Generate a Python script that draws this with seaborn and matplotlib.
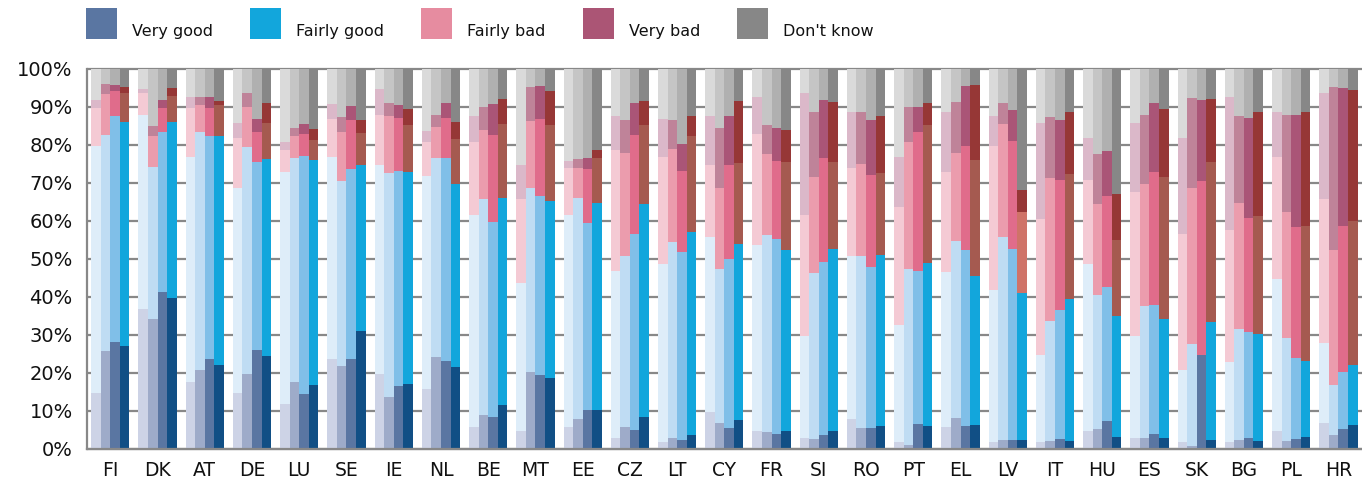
#!/usr/bin/env python3
"""
Perceived situation by country, four survey waves stacked side by side.
Each bar is one wave; segments go Very good -> Don't know from bottom to top.
"""

import numpy as np
import pandas as pd
import seaborn as sns
import matplotlib.pyplot as plt
from matplotlib.patches import Rectangle

countries = ["FI", "DK", "AT", "DE", "LU", "SE", "IE", "NL", "BE", "MT", "EE", "CZ", "LT", "CY",
             "FR", "SI", "RO", "PT", "EL", "LV", "IT", "HU", "ES", "SK", "BG", "PL", "HR"]
waves = ["W1", "W2", "W3", "W4"]
categories = ["Very good", "Fairly good", "Fairly bad", "Very bad", "Don't know"]
y_labels = ["0%", "10%", "20%", "30%", "40%", "50%", "60%", "70%", "80%", "90%", "100%"]

# one list per wave, countries in the order above (values in %)
very_good = [
    [14.8, 36.8, 17.6, 14.8, 11.8, 23.7, 19.7, 15.8, 5.8, 4.7, 5.8, 2.9, 1.8, 9.7, 4.7, 2.9, 7.9, 1.8, 5.8, 1.8, 1.8, 4.7, 2.9, 1.8, 1.8, 4.7, 6.8],
    [25.8, 34.2, 20.8, 19.7, 17.6, 21.8, 13.7, 24.2, 8.9, 20.3, 7.9, 5.8, 2.9, 6.8, 4.5, 2.6, 5.5, 1.1, 8.2, 2.4, 2.1, 5.3, 2.9, 0.8, 2.4, 2.1, 3.7],
    [28.2, 41.3, 23.7, 26.1, 14.5, 23.7, 16.6, 23.2, 8.4, 19.5, 10.3, 5.0, 2.4, 5.5, 3.9, 3.7, 5.5, 6.6, 6.1, 2.4, 2.6, 7.4, 3.9, 24.7, 2.9, 2.6, 5.3],
    [27.1, 39.7, 22.1, 24.5, 16.8, 31.1, 17.1, 21.6, 11.6, 18.7, 10.3, 8.4, 3.7, 7.6, 4.7, 4.7, 6.1, 6.1, 6.3, 2.4, 2.1, 3.2, 2.9, 2.4, 2.1, 3.2, 6.3],
]
fairly_good = [
    [64.9, 51.1, 59.2, 53.9, 61.1, 53.1, 55.0, 56.0, 55.8, 39.0, 55.8, 43.9, 46.9, 46.1, 49.0, 26.8, 42.9, 30.8, 40.8, 40.0, 22.9, 44.0, 26.8, 19.0, 21.1, 40.0, 21.1],
    [56.8, 40.0, 62.6, 59.8, 59.0, 48.7, 58.9, 52.4, 56.9, 48.4, 58.2, 45.0, 51.6, 40.6, 51.8, 43.7, 45.3, 46.3, 46.5, 53.4, 31.6, 35.2, 34.7, 26.8, 29.2, 27.1, 13.1],
    [59.4, 42.1, 58.7, 49.4, 62.6, 50.0, 56.6, 53.4, 51.3, 47.1, 49.2, 51.6, 49.4, 44.5, 51.4, 45.5, 42.4, 40.2, 46.3, 50.2, 34.0, 35.2, 34.0, 0.0, 27.9, 21.3, 15.0],
    [59.0, 46.4, 60.3, 51.8, 59.3, 43.6, 55.8, 48.1, 54.5, 46.6, 54.4, 56.1, 53.4, 46.3, 47.7, 47.9, 45.0, 42.8, 39.2, 38.6, 37.4, 31.8, 31.3, 31.0, 28.2, 20.0, 15.8],
]
fairly_bad = [
    [10.1, 5.8, 12.9, 13.1, 5.8, 10.0, 13.2, 9.0, 19.2, 22.1, 12.3, 31.9, 28.1, 18.9, 29.2, 31.9, 23.1, 31.1, 26.3, 37.9, 35.8, 22.1, 37.9, 35.8, 34.7, 32.1, 37.9],
    [10.8, 8.2, 7.1, 10.5, 5.8, 12.9, 15.0, 8.1, 18.1, 17.6, 7.8, 27.1, 24.4, 21.3, 21.3, 25.3, 24.2, 33.4, 23.2, 29.7, 37.6, 24.0, 32.1, 41.1, 33.1, 33.2, 35.6],
    [6.6, 6.3, 7.3, 7.9, 5.8, 12.9, 13.9, 10.5, 22.9, 20.2, 14.2, 26.0, 21.4, 24.7, 20.5, 27.4, 24.2, 36.6, 27.3, 28.5, 34.2, 24.0, 35.0, 45.8, 30.0, 34.5, 38.4],
    [7.6, 6.8, 8.1, 9.5, 5.2, 8.5, 12.4, 11.9, 19.4, 20.0, 11.9, 20.8, 25.3, 21.4, 23.1, 23.0, 21.5, 36.4, 30.6, 21.4, 32.9, 20.0, 37.4, 42.1, 31.0, 35.5, 37.9],
]
very_bad = [
    [2.0, 1.0, 2.9, 4.0, 2.1, 4.0, 6.8, 2.9, 6.8, 8.9, 1.9, 8.9, 10.0, 12.9, 9.7, 32.1, 14.8, 13.1, 15.8, 7.9, 25.3, 11.0, 18.2, 25.2, 35.0, 11.9, 27.9],
    [2.7, 2.6, 2.1, 3.7, 2.1, 4.0, 3.5, 3.2, 6.1, 9.0, 2.4, 8.7, 7.7, 15.8, 7.7, 17.1, 13.7, 9.2, 13.4, 5.6, 16.1, 13.1, 18.2, 23.7, 22.9, 25.5, 42.9],
    [1.6, 2.1, 2.9, 3.4, 2.6, 3.7, 3.4, 4.0, 8.2, 8.7, 3.0, 8.5, 7.1, 12.9, 8.7, 15.2, 14.5, 6.6, 15.8, 8.1, 15.8, 11.8, 18.2, 21.3, 26.3, 29.5, 36.3],
    [1.6, 2.1, 1.1, 5.3, 2.9, 3.4, 4.2, 4.5, 6.6, 8.9, 2.1, 6.3, 5.2, 16.3, 8.5, 15.7, 15.0, 5.8, 19.7, 5.8, 16.3, 12.1, 17.9, 16.6, 27.4, 30.0, 34.5],
]
dont_know = [
    [8.2, 5.3, 7.4, 14.2, 19.2, 9.2, 5.3, 16.3, 12.4, 25.3, 24.2, 12.4, 13.2, 12.4, 7.4, 6.3, 11.3, 23.2, 11.3, 12.4, 14.2, 18.2, 14.2, 18.2, 7.4, 11.3, 6.3],
    [3.9, 15.0, 7.4, 6.3, 15.5, 12.6, 8.9, 12.1, 10.0, 4.7, 23.7, 13.4, 13.4, 15.5, 14.7, 11.3, 11.3, 10.0, 8.7, 8.9, 12.6, 22.4, 12.1, 7.6, 12.4, 12.1, 4.7],
    [4.2, 8.2, 7.4, 13.2, 14.5, 9.7, 9.5, 8.9, 9.2, 4.5, 23.3, 8.9, 19.7, 12.4, 15.5, 8.2, 13.4, 10.0, 4.5, 10.8, 13.4, 21.6, 8.9, 8.2, 12.9, 12.1, 5.0],
    [4.7, 5.0, 8.4, 8.9, 15.8, 13.4, 10.5, 13.9, 7.9, 5.8, 21.3, 8.4, 12.4, 8.4, 16.0, 8.7, 12.4, 8.9, 4.2, 31.8, 11.3, 32.9, 10.5, 7.9, 11.3, 11.3, 5.5],
]

# colours per category, light (first wave) to dark (last wave)
palettes = {
    "Very good":   ["#cdd3e6", "#9eabc9", "#5a76a2", "#114f85"],
    "Fairly good": ["#deedf9", "#bfdcf3", "#80bfe8", "#12a6dc"],
    "Fairly bad":  ["#f4cad4", "#eb9cad", "#e06c8b", "#a55a50"],
    "Very bad":    ["#dbb8c9", "#bf8399", "#aa5577", "#963736"],
    "Don't know":  ["#dadada", "#c5c5c5", "#b0b0b0", "#878787"],
}
legend_colors = ["#5a76a2", "#12a6dc", "#e68ca0", "#ab5575", "#878787"]

W, H = 1362, 482
GREY = "#888888"

sns.set_style("white")
plt.rcParams["font.family"] = ["DejaVu Sans"]

# long table with the cumulative top of every segment
stack = np.cumsum(np.array([very_good, fairly_good, fairly_bad, very_bad, dont_know]), axis=0)
rows = []
for w, wave in enumerate(waves):
    for c, country in enumerate(countries):
        row = {"country": country, "wave": wave}
        for k, cat in enumerate(categories):
            row[cat] = stack[k, w, c]
        rows.append(row)
df = pd.DataFrame(rows)

fig = plt.figure(figsize=(W / 100, H / 100), dpi=100)
ax = fig.add_axes([86.7 / W, 33 / H, 1 - 86.7 / W, 380 / H])

# draw from the top segment down so each lower layer covers the one above
for cat in reversed(categories):
    sns.barplot(data=df, x="country", y=cat, hue="wave", order=countries, hue_order=waves,
                palette=palettes[cat], width=0.81, saturation=1, errorbar=None,
                legend=False, linewidth=0, ax=ax)
    if cat == "Fairly bad":
        # LV last wave is shown highlighted in the source
        ax.containers[-1][countries.index("LV")].set_facecolor("#cf7368")

ax.set_xlim(-0.5, len(countries) - 0.5)
ax.set_ylim(0, 100)
ax.set_xlabel("")
ax.set_ylabel("")

ax.set_yticks(np.arange(0, 101, 10), y_labels)
ax.set_xticks(np.arange(len(countries)), countries)
ax.set_xticks(np.arange(-0.5, len(countries)), minor=True)
ax.tick_params(axis="y", length=4, width=1.6, color=GREY, pad=6, labelsize=14, labelcolor="#111111")
ax.tick_params(axis="x", which="major", length=0, pad=9, labelsize=13.5, labelcolor="#111111")
ax.tick_params(axis="x", which="minor", length=5, width=1.6, color=GREY)

ax.set_axisbelow(True)
ax.yaxis.grid(True, color=GREY, linewidth=1.6)
ax.xaxis.grid(False)
for line in ax.get_ygridlines():
    line.set_clip_on(False)

for side in ["top", "right"]:
    ax.spines[side].set_visible(False)
for side in ["left", "bottom"]:
    ax.spines[side].set_color(GREY)
    ax.spines[side].set_linewidth(1.6)

# legend row across the top
patch_x = [86, 250, 421, 583, 737]
text_x = [132, 296, 467, 629, 783]
for label, color, px, tx in zip(categories, legend_colors, patch_x, text_x):
    fig.patches.append(Rectangle((px / W, 1 - 39 / H), 31 / W, 31 / H,
                                 transform=fig.transFigure, facecolor=color, linewidth=0))
    fig.text(tx / W, 1 - 36 / H, label, va="baseline", ha="left", fontsize=11.5, color="#111111")

fig.savefig("out.png", dpi=100)
